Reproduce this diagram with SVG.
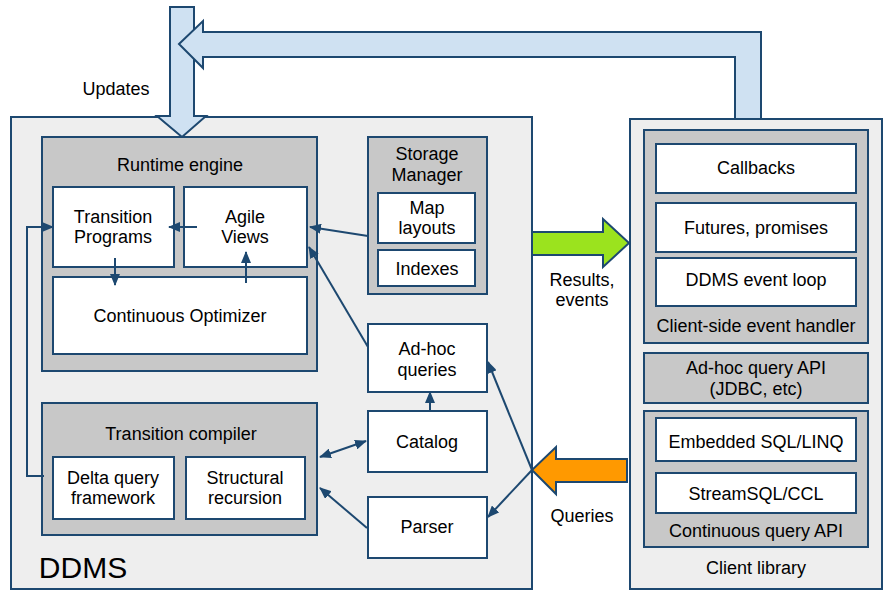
<svg xmlns="http://www.w3.org/2000/svg" width="890" height="600" viewBox="0 0 890 600">
<style>
.outer{fill:#eeeeee;stroke:#1d4870;stroke-width:2}
.grey{fill:#c8c8c8;stroke:#1d4870;stroke-width:2}
.white{fill:#ffffff;stroke:#1d4870;stroke-width:2}
text{font-family:"Liberation Sans",Arial,sans-serif;font-size:18px;fill:#000;text-anchor:middle}
.conn{fill:none;stroke:#1d4870;stroke-width:2}
.big{stroke:#1d4870;stroke-width:2;stroke-linejoin:miter}
</style>
<defs>
<marker id="ah" markerUnits="userSpaceOnUse" markerWidth="12" markerHeight="10" refX="11" refY="5" orient="auto-start-reverse">
<path d="M0,0 L12,5 L0,10 z" fill="#1d4870"/>
</marker>
</defs>
<rect width="890" height="600" fill="#ffffff"/>

<g id="ddms">
<rect class="outer" x="11" y="117" width="521" height="472"/>
<text x="83" y="578" style="font-size:30px">DDMS</text>
</g>
<g id="client-library">
<rect class="outer" x="630" y="119" width="252" height="470"/>
<text x="756" y="574">Client library</text>
</g>

<g id="big-arrows">
<path class="big" fill="#cfe1f2" d="M170,7 L194,7 L194,116 L206,116 L182,137 L157,116 L170,116 Z"/>
<path class="big" fill="#cfe1f2" d="M179,44 L203,21 L203,32 L761,32 L761,119 L735,119 L735,57 L203,57 L203,68 Z"/>
<path class="big" fill="#9be31e" d="M532,232 L603,232 L603,219 L629,243 L603,267 L603,255 L532,255 Z"/>
<path class="big" fill="#ff9900" d="M627,459 L556,459 L556,447 L532,470 L556,494 L556,482 L627,482 Z"/>
<text x="116" y="95">Updates</text>
<text x="582" y="286">Results,</text>
<text x="582" y="306">events</text>
<text x="582" y="522">Queries</text>
</g>

<g id="runtime-engine">
<rect class="grey" x="42" y="137" width="275" height="234"/>
<text x="180" y="171">Runtime engine</text>
</g>
<g id="transition-programs">
<rect class="white" x="53" y="187" width="121" height="80"/>
<text x="113" y="223">Transition</text>
<text x="113" y="243">Programs</text>
</g>
<g id="agile-views">
<rect class="white" x="184" y="187" width="123" height="80"/>
<text x="245" y="223">Agile</text>
<text x="245" y="243">Views</text>
</g>
<g id="continuous-optimizer">
<rect class="white" x="53" y="277" width="254" height="77"/>
<text x="180" y="322">Continuous Optimizer</text>
</g>

<g id="storage-manager">
<rect class="grey" x="368" y="137" width="119" height="157"/>
<text x="427" y="160">Storage</text>
<text x="427" y="181">Manager</text>
</g>
<g id="map-layouts">
<rect class="white" x="378" y="193" width="97" height="50"/>
<text x="427" y="214">Map</text>
<text x="427" y="234">layouts</text>
</g>
<g id="indexes">
<rect class="white" x="378" y="250" width="97" height="36"/>
<text x="427" y="275">Indexes</text>
</g>

<g id="adhoc-queries">
<rect class="white" x="368" y="324" width="119" height="68"/>
<text x="427" y="355">Ad-hoc</text>
<text x="427" y="376">queries</text>
</g>
<g id="catalog">
<rect class="white" x="368" y="411" width="119" height="61"/>
<text x="427" y="448">Catalog</text>
</g>
<g id="parser">
<rect class="white" x="368" y="497" width="119" height="61"/>
<text x="427" y="533">Parser</text>
</g>

<g id="transition-compiler">
<rect class="grey" x="42" y="403" width="275" height="132"/>
<text x="181" y="440">Transition compiler</text>
</g>
<g id="delta-query-framework">
<rect class="white" x="53" y="457" width="121" height="62"/>
<text x="113" y="484">Delta query</text>
<text x="113" y="504">framework</text>
</g>
<g id="structural-recursion">
<rect class="white" x="186" y="457" width="119" height="62"/>
<text x="245" y="484">Structural</text>
<text x="245" y="504">recursion</text>
</g>

<g id="client-side-event-handler">
<rect class="grey" x="644" y="130" width="224" height="213"/>
<text x="756" y="332">Client-side event handler</text>
</g>
<g id="callbacks">
<rect class="white" x="656" y="144" width="200" height="49"/>
<text x="756" y="174">Callbacks</text>
</g>
<g id="futures-promises">
<rect class="white" x="656" y="203" width="200" height="49"/>
<text x="756" y="234">Futures, promises</text>
</g>
<g id="ddms-event-loop">
<rect class="white" x="656" y="258" width="200" height="48"/>
<text x="756" y="286">DDMS event loop</text>
</g>

<g id="adhoc-query-api">
<rect class="grey" x="644" y="353" width="224" height="50"/>
<text x="756" y="374">Ad-hoc query API</text>
<text x="756" y="395">(JDBC, etc)</text>
</g>
<g id="continuous-query-api">
<rect class="grey" x="644" y="411" width="224" height="136"/>
<text x="756" y="537">Continuous query API</text>
</g>
<g id="embedded-sql">
<rect class="white" x="656" y="418" width="200" height="43"/>
<text x="756" y="448">Embedded SQL/LINQ</text>
</g>
<g id="streamsql">
<rect class="white" x="656" y="473" width="200" height="40"/>
<text x="756" y="500">StreamSQL/CCL</text>
</g>

<g id="connectors">
<line class="conn" x1="197" y1="227" x2="169" y2="227" marker-end="url(#ah)"/>
<line class="conn" x1="115" y1="258" x2="115" y2="285" marker-end="url(#ah)"/>
<line class="conn" x1="246" y1="283" x2="246" y2="252" marker-end="url(#ah)"/>
<line class="conn" x1="368" y1="236" x2="310" y2="227" marker-end="url(#ah)"/>
<line class="conn" x1="368" y1="347" x2="309" y2="247" marker-end="url(#ah)"/>
<polyline class="conn" points="44,476 27,476 27,227 53,227" marker-end="url(#ah)"/>
<line class="conn" x1="320" y1="457" x2="366" y2="441" marker-start="url(#ah)" marker-end="url(#ah)"/>
<line class="conn" x1="367" y1="528" x2="320" y2="488" marker-end="url(#ah)"/>
<line class="conn" x1="430" y1="411" x2="430" y2="392" marker-end="url(#ah)"/>
<line class="conn" x1="532" y1="470" x2="488" y2="362" marker-end="url(#ah)"/>
<line class="conn" x1="532" y1="470" x2="488" y2="517" marker-end="url(#ah)"/>
</g>
</svg>
